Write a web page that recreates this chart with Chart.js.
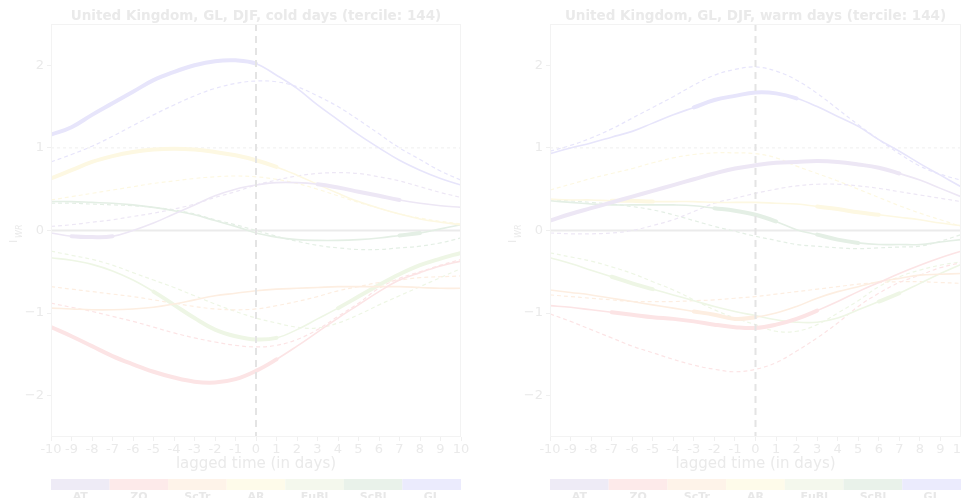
<!DOCTYPE html>
<html>
<head>
<meta charset="utf-8">
<script src="https://cdn.jsdelivr.net/npm/chart.js@4/dist/chart.umd.min.js"></script>
<style>
  html, body { margin: 0; padding: 0; background: #ffffff; overflow: hidden; width: 961px; height: 498px; }
  #wrap { position: relative; width: 961px; height: 498px; overflow: hidden; }
  canvas { position: absolute; top: 0; }
  #cold { left: 0; width: 480px; height: 498px; }
  #warm { left: 480px; width: 500px; height: 498px; }
</style>
</head>
<body>
<div id="wrap">
  <canvas id="cold" width="480" height="498"></canvas>
  <canvas id="warm" width="500" height="498"></canvas>
</div>
<script>
// Lag axis (days relative to the event day)
const days = [-10, -9, -8, -7, -6, -5, -4, -3, -2, -1, 0, 1, 2, 3, 4, 5, 6, 7, 8, 9, 10];
const yTicks = [-2, -1, 0, 1, 2];
const regimes = ['AT', 'ZO', 'ScTr', 'AR', 'EuBl', 'ScBl', 'GL'];

// ---- cold days: composite weather-regime index (solid) ----
const coldAT   = [-0.03, -0.07, -0.08, -0.07, 0.00, 0.09, 0.20, 0.31, 0.42, 0.50, 0.55, 0.58, 0.58, 0.56, 0.52, 0.47, 0.42, 0.37, 0.33, 0.30, 0.28];
const coldZO   = [-1.17, -1.28, -1.40, -1.52, -1.62, -1.71, -1.78, -1.83, -1.84, -1.80, -1.70, -1.56, -1.40, -1.23, -1.06, -0.90, -0.74, -0.60, -0.51, -0.43, -0.37];
const coldScTr = [-0.94, -0.95, -0.96, -0.96, -0.95, -0.93, -0.89, -0.84, -0.79, -0.76, -0.73, -0.71, -0.70, -0.69, -0.68, -0.68, -0.68, -0.68, -0.69, -0.70, -0.70];
const coldAR   = [0.63, 0.73, 0.83, 0.90, 0.95, 0.98, 0.99, 0.98, 0.95, 0.91, 0.85, 0.77, 0.67, 0.56, 0.45, 0.35, 0.27, 0.20, 0.14, 0.10, 0.07];
const coldEuBl = [-0.33, -0.36, -0.41, -0.49, -0.60, -0.74, -0.90, -1.06, -1.20, -1.28, -1.32, -1.30, -1.20, -1.07, -0.94, -0.80, -0.66, -0.53, -0.42, -0.34, -0.27];
const coldScBl = [0.35, 0.35, 0.34, 0.33, 0.31, 0.28, 0.24, 0.19, 0.12, 0.05, -0.03, -0.08, -0.11, -0.12, -0.12, -0.11, -0.09, -0.06, -0.03, 0.02, 0.07];
const coldGL   = [1.16, 1.25, 1.40, 1.54, 1.68, 1.82, 1.92, 2.00, 2.05, 2.06, 2.02, 1.88, 1.72, 1.52, 1.34, 1.16, 1.00, 0.85, 0.73, 0.63, 0.55];

// ---- cold days: reference index (dashed) ----
const coldATRef   = [0.05, 0.07, 0.10, 0.13, 0.17, 0.21, 0.26, 0.32, 0.40, 0.47, 0.55, 0.61, 0.66, 0.69, 0.70, 0.69, 0.65, 0.60, 0.53, 0.46, 0.40];
const coldZORef   = [-0.88, -0.93, -0.98, -1.04, -1.10, -1.17, -1.24, -1.30, -1.35, -1.39, -1.41, -1.39, -1.32, -1.20, -1.04, -0.88, -0.70, -0.58, -0.50, -0.42, -0.35];
const coldScTrRef = [-0.68, -0.71, -0.74, -0.77, -0.80, -0.84, -0.88, -0.92, -0.95, -0.96, -0.95, -0.91, -0.86, -0.80, -0.73, -0.68, -0.63, -0.60, -0.57, -0.56, -0.55];
const coldARRef   = [0.37, 0.41, 0.45, 0.49, 0.53, 0.57, 0.60, 0.63, 0.65, 0.66, 0.65, 0.62, 0.57, 0.50, 0.42, 0.34, 0.27, 0.20, 0.15, 0.11, 0.08];
const coldEuBlRef = [-0.25, -0.30, -0.35, -0.42, -0.51, -0.60, -0.69, -0.79, -0.89, -0.98, -1.06, -1.12, -1.17, -1.18, -1.12, -1.02, -0.90, -0.79, -0.68, -0.57, -0.46];
const coldScBlRef = [0.33, 0.33, 0.32, 0.31, 0.30, 0.28, 0.25, 0.20, 0.13, 0.07, 0.00, -0.07, -0.13, -0.18, -0.21, -0.23, -0.23, -0.21, -0.19, -0.15, -0.09];
const coldGLRef   = [0.83, 0.92, 1.02, 1.14, 1.27, 1.40, 1.52, 1.63, 1.72, 1.78, 1.81, 1.80, 1.74, 1.63, 1.50, 1.34, 1.17, 1.00, 0.86, 0.72, 0.61];

// ---- warm days: composite weather-regime index (solid) ----
const warmAT   = [0.12, 0.20, 0.27, 0.34, 0.41, 0.48, 0.55, 0.62, 0.69, 0.75, 0.79, 0.82, 0.83, 0.84, 0.83, 0.80, 0.76, 0.69, 0.61, 0.51, 0.41];
const warmZO   = [-0.91, -0.93, -0.96, -0.99, -1.02, -1.05, -1.07, -1.10, -1.14, -1.17, -1.18, -1.14, -1.07, -0.97, -0.86, -0.74, -0.63, -0.52, -0.42, -0.33, -0.25];
const warmScTr = [-0.72, -0.75, -0.78, -0.82, -0.86, -0.90, -0.94, -0.98, -1.02, -1.07, -1.05, -1.00, -0.92, -0.82, -0.74, -0.68, -0.62, -0.58, -0.54, -0.53, -0.52];
const warmAR   = [0.38, 0.37, 0.37, 0.36, 0.36, 0.35, 0.35, 0.35, 0.34, 0.34, 0.34, 0.33, 0.32, 0.29, 0.26, 0.22, 0.19, 0.16, 0.13, 0.09, 0.06];
const warmEuBl = [-0.33, -0.40, -0.48, -0.56, -0.64, -0.71, -0.78, -0.85, -0.92, -0.98, -1.03, -1.08, -1.11, -1.11, -1.06, -0.96, -0.86, -0.76, -0.64, -0.52, -0.41];
const warmScBl = [0.36, 0.34, 0.32, 0.31, 0.31, 0.31, 0.31, 0.30, 0.27, 0.24, 0.19, 0.11, 0.01, -0.05, -0.11, -0.15, -0.17, -0.17, -0.17, -0.14, -0.11];
const warmGL   = [0.93, 1.00, 1.06, 1.13, 1.20, 1.30, 1.40, 1.49, 1.58, 1.63, 1.67, 1.66, 1.60, 1.50, 1.38, 1.26, 1.10, 0.96, 0.81, 0.67, 0.53];

// ---- warm days: reference index (dashed) ----
const warmATRef   = [-0.03, -0.04, -0.04, -0.03, 0.00, 0.06, 0.13, 0.23, 0.33, 0.39, 0.45, 0.50, 0.54, 0.56, 0.56, 0.54, 0.51, 0.47, 0.43, 0.39, 0.35];
const warmZORef   = [-1.01, -1.10, -1.20, -1.30, -1.40, -1.48, -1.56, -1.63, -1.68, -1.71, -1.68, -1.60, -1.46, -1.30, -1.12, -0.92, -0.76, -0.63, -0.54, -0.45, -0.39];
const warmScTrRef = [-0.78, -0.80, -0.82, -0.84, -0.86, -0.86, -0.86, -0.85, -0.84, -0.82, -0.80, -0.77, -0.74, -0.71, -0.68, -0.65, -0.63, -0.62, -0.62, -0.63, -0.64];
const warmARRef   = [0.49, 0.56, 0.63, 0.69, 0.75, 0.82, 0.88, 0.92, 0.94, 0.94, 0.93, 0.88, 0.78, 0.69, 0.60, 0.50, 0.40, 0.30, 0.21, 0.13, 0.05];
const warmEuBlRef = [-0.27, -0.32, -0.37, -0.44, -0.52, -0.62, -0.72, -0.84, -0.96, -1.06, -1.14, -1.22, -1.22, -1.14, -1.00, -0.85, -0.68, -0.56, -0.48, -0.42, -0.38];
const warmScBlRef = [0.37, 0.36, 0.34, 0.32, 0.29, 0.25, 0.19, 0.12, 0.05, -0.01, -0.07, -0.12, -0.17, -0.19, -0.21, -0.22, -0.21, -0.20, -0.19, -0.13, -0.05];
const warmGLRef   = [0.96, 1.03, 1.12, 1.23, 1.36, 1.49, 1.62, 1.76, 1.88, 1.95, 1.98, 1.93, 1.82, 1.66, 1.47, 1.28, 1.10, 0.93, 0.78, 0.68, 0.61];

// Lag intervals (in days) where the composite is significant
const coldSig = { AT: [[-9, -7], [3, 7]], ZO: [[-10, 1]], ScTr: [], AR: [[-10, 1]], EuBl: [[-5, 1], [4, 10]], ScBl: [[7, 8]], GL: [[-10, 0]] };
const warmSig = { AT: [[-10, 7]], ZO: [[-7, 3]], ScTr: [[-3, 0]], AR: [[-7, -5], [3, 6]], EuBl: [[-7, -5], [6, 7]], ScBl: [[-2, 1], [3, 5]], GL: [[-3, 2]] };

const coldTitle = 'United Kingdom, GL, DJF, cold days (tercile: 144)';
const warmTitle = 'United Kingdom, GL, DJF, warm days (tercile: 144)';
const xTitle = 'lagged time (in days)';

// ---- styling ----
const lineColors = { AT: '#ede7f5', ZO: '#fce4e5', ScTr: '#fdeee1', AR: '#fdf8e2', EuBl: '#eef6e5', ScBl: '#e4efe5', GL: '#e7e5fb' };
const barColors  = { AT: '#eeebf6', ZO: '#fdeaea', ScTr: '#fef3e9', AR: '#fefbea', EuBl: '#f4f8ed', ScBl: '#e9f2ea', GL: '#ebebfd' };
const TEXT = '#eaeaea';
const FONT = '"DejaVu Sans", sans-serif';

function points(values) {
  return days.map((d, i) => ({ x: d, y: values[i] }));
}

function isSig(ranges, x0, x1) {
  return ranges.some(([a, b]) => x0 >= a && x1 <= b);
}

function buildDatasets(comp, ref, sig) {
  const sets = [];
  // composites first: Chart.js draws the first dataset on top
  regimes.forEach(r => {
    sets.push({
      label: r,
      data: points(comp[r]),
      borderColor: lineColors[r],
      borderWidth: 1.6,
      borderCapStyle: 'round',
      pointRadius: 0,
      tension: 0.4,
      segment: {
        borderWidth: c => isSig(sig[r], c.p0.parsed.x, c.p1.parsed.x) ? 4 : 1.6
      }
    });
  });
  regimes.forEach(r => {
    sets.push({
      label: r + ' ref',
      data: points(ref[r]),
      borderColor: lineColors[r],
      borderWidth: 1.2,
      borderDash: [4, 3],
      pointRadius: 0,
      tension: 0.4
    });
  });
  return sets;
}

// Reference lines, panel frame, title, y label and regime colour bar
const panelDecor = {
  id: 'panelDecor',
  beforeDatasetsDraw(chart) {
    const { ctx, chartArea: a, scales: { y } } = chart;
    ctx.save();
    // dashed guide at index 1
    ctx.strokeStyle = '#efefef';
    ctx.lineWidth = 1;
    ctx.setLineDash([3, 3]);
    const y1 = y.getPixelForValue(1);
    ctx.beginPath(); ctx.moveTo(a.left, y1); ctx.lineTo(a.right, y1); ctx.stroke();
    // zero line
    ctx.setLineDash([]);
    ctx.strokeStyle = '#ebebeb';
    ctx.lineWidth = 2;
    const y0 = y.getPixelForValue(0);
    ctx.beginPath(); ctx.moveTo(a.left, y0); ctx.lineTo(a.right, y0); ctx.stroke();
    ctx.restore();
  },
  afterDatasetsDraw(chart) {
    const { ctx, chartArea: a, scales: { x } } = chart;
    ctx.save();
    const x0 = x.getPixelForValue(0);
    ctx.strokeStyle = '#e4e4e4';
    ctx.lineWidth = 2;
    ctx.setLineDash([7, 5]);
    ctx.beginPath(); ctx.moveTo(x0, a.top); ctx.lineTo(x0, a.bottom); ctx.stroke();
    ctx.restore();
  },
  afterDraw(chart, args, opts) {
    const { ctx, chartArea: a } = chart;
    ctx.save();
    // frame
    ctx.strokeStyle = '#f3f3f3';
    ctx.lineWidth = 1;
    ctx.strokeRect(a.left + 0.5, a.top + 0.5, a.right - a.left - 1, a.bottom - a.top - 1);
    // title
    ctx.fillStyle = TEXT;
    ctx.font = 'bold 13.5px ' + FONT;
    ctx.textAlign = 'center';
    ctx.textBaseline = 'middle';
    ctx.fillText(opts.title, (a.left + a.right) / 2, 16);
    // y label: I with subscript WR
    ctx.save();
    ctx.translate(a.left - 34, 243);
    ctx.rotate(-Math.PI / 2);
    ctx.textAlign = 'left';
    ctx.textBaseline = 'alphabetic';
    ctx.font = '11px ' + FONT;
    ctx.fillText('I', 0, 0);
    ctx.font = 'italic 8px ' + FONT;
    ctx.fillText('WR', 5, 5);
    ctx.restore();
    // regime colour bar
    const w = (a.right - a.left) / regimes.length;
    regimes.forEach((r, i) => {
      ctx.fillStyle = barColors[r];
      ctx.fillRect(a.left + i * w, 479, w, 11);
      ctx.fillStyle = '#e8e8e8';
      ctx.font = 'bold 11px ' + FONT;
      ctx.textAlign = 'center';
      ctx.textBaseline = 'top';
      ctx.fillText(r, a.left + (i + 0.5) * w, 492);
    });
    ctx.restore();
  }
};

function makePanel(id, comp, ref, sig, title, yAxisWidth, padRight) {
  new Chart(document.getElementById(id), {
    type: 'line',
    data: { datasets: buildDatasets(comp, ref, sig) },
    plugins: [panelDecor],
    options: {
      responsive: false,
      animation: false,
      devicePixelRatio: 1,
      layout: { padding: { top: 24, right: padRight, bottom: 0, left: 0 } },
      plugins: {
        legend: { display: false },
        tooltip: { enabled: false },
        title: { display: false },
        panelDecor: { title }
      },
      scales: {
        x: {
          type: 'linear',
          min: -10, max: 10,
          afterFit: s => { s.height = 61; },
          grid: { drawOnChartArea: false, tickLength: 4, color: '#f0f0f0' },
          border: { display: false },
          ticks: {
            stepSize: 1, autoSkip: false, maxRotation: 0, padding: 1,
            color: TEXT, font: { family: FONT, size: 13 },
            callback: v => String(v)
          },
          title: {
            display: true, text: xTitle, color: TEXT,
            font: { family: FONT, size: 15 }, padding: { top: 0, bottom: 25 }
          }
        },
        y: {
          type: 'linear',
          min: -2.5, max: 2.5,
          afterFit: s => { s.width = yAxisWidth; },
          afterBuildTicks: s => { s.ticks = yTicks.map(v => ({ value: v })); },
          grid: { drawOnChartArea: false, tickLength: 4, color: '#f0f0f0' },
          border: { display: false },
          ticks: {
            padding: 3, color: TEXT, font: { family: FONT, size: 13 },
            callback: v => (v < 0 ? '\u2212' + Math.abs(v) : String(v))
          }
        }
      }
    }
  });
}

const coldComp = { AT: coldAT, ZO: coldZO, ScTr: coldScTr, AR: coldAR, EuBl: coldEuBl, ScBl: coldScBl, GL: coldGL };
const coldRef  = { AT: coldATRef, ZO: coldZORef, ScTr: coldScTrRef, AR: coldARRef, EuBl: coldEuBlRef, ScBl: coldScBlRef, GL: coldGLRef };
const warmComp = { AT: warmAT, ZO: warmZO, ScTr: warmScTr, AR: warmAR, EuBl: warmEuBl, ScBl: warmScBl, GL: warmGL };
const warmRef  = { AT: warmATRef, ZO: warmZORef, ScTr: warmScTrRef, AR: warmARRef, EuBl: warmEuBlRef, ScBl: warmScBlRef, GL: warmGLRef };

makePanel('cold', coldComp, coldRef, coldSig, coldTitle, 51, 19);
makePanel('warm', warmComp, warmRef, warmSig, warmTitle, 70, 19);
</script>
</body>
</html>
